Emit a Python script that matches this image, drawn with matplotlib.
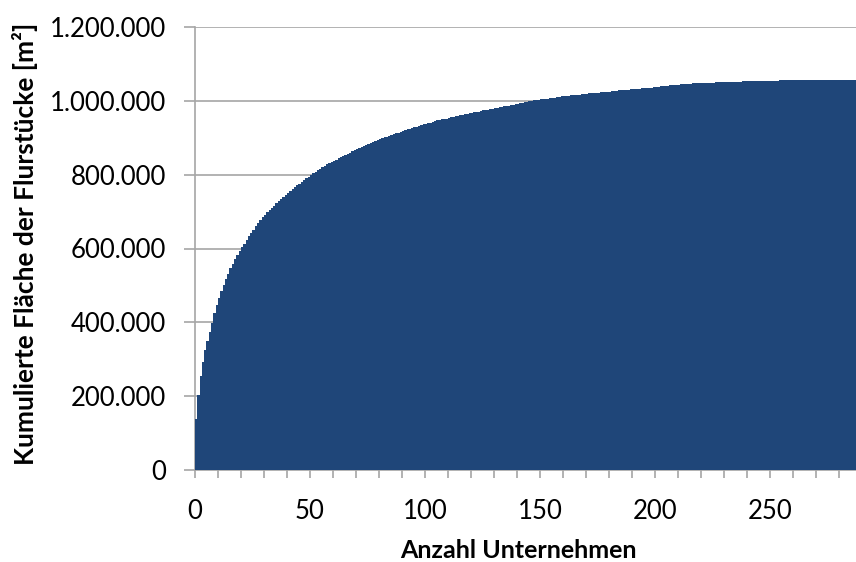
import numpy as np
import matplotlib
matplotlib.use("Agg")
from matplotlib import pyplot as plt
from matplotlib.ticker import MultipleLocator, FuncFormatter

# kumulierte Fläche je Unternehmen (in 1.000 m²)
kum_flaeche_tsd = [
    138, 203, 255, 293, 325, 350, 375, 399, 425, 447,
    466, 484, 501, 517, 532, 546, 559, 571, 583, 594,
    604, 613, 623, 633, 642, 651, 660, 669, 677, 684,
    691, 698, 704, 710, 716, 722, 728, 734, 739, 745,
    750, 755, 761, 766, 771, 776, 781, 786, 791, 795,
    800, 804, 808, 812, 816, 820, 824, 828, 831, 835,
    838, 841, 845, 848, 851, 854, 857, 860, 863, 866,
    869, 872, 875, 877, 880, 883, 886, 888, 891, 894,
    896, 898, 901, 903, 905, 907, 909, 912, 914, 916,
    918, 921, 923, 925, 926, 928, 930, 932, 934, 936,
    938, 939, 941, 943, 945, 947, 948, 950, 951, 952,
    954, 955, 956, 958, 959, 961, 962, 963, 965, 966,
    967, 969, 970, 971, 972, 974, 975, 976, 977, 979,
    980, 981, 982, 984, 985, 986, 987, 989, 990, 991,
    992, 994, 995, 996, 997, 999, 1000, 1001, 1002, 1003,
    1004, 1005, 1006, 1006, 1007, 1008, 1009, 1010, 1011, 1012,
    1013, 1013, 1014, 1015, 1015, 1016, 1017, 1017, 1018, 1019,
    1019, 1020, 1021, 1021, 1022, 1022, 1023, 1024, 1024, 1025,
    1025, 1026, 1026, 1027, 1028, 1028, 1029, 1029, 1030, 1031,
    1031, 1032, 1033, 1033, 1034, 1034, 1035, 1036, 1036, 1037,
    1038, 1038, 1039, 1040, 1040, 1041, 1042, 1042, 1043, 1043,
    1044, 1045, 1045, 1046, 1046, 1046, 1047, 1047, 1047, 1048,
    1048, 1048, 1048, 1049, 1049, 1049, 1050, 1050, 1050, 1050,
    1051, 1051, 1051, 1051, 1052, 1052, 1052, 1052, 1053, 1053,
    1053, 1053, 1054, 1054, 1054, 1054, 1054, 1055, 1055, 1055,
    1055, 1055, 1055, 1055, 1056, 1056, 1056, 1056, 1056, 1056,
    1056, 1056, 1056, 1056, 1056, 1056, 1056, 1056, 1056, 1056,
    1056, 1056, 1056, 1056, 1056, 1057, 1057, 1057, 1057, 1057,
    1057, 1057, 1057, 1057, 1057, 1057, 1057, 1057,
]
x_label = "Anzahl Unternehmen"
y_label = "Kumulierte Fläche der Flurstücke [m²]"

werte = np.array(kum_flaeche_tsd) * 1000
nr = np.arange(1, len(werte) + 1)

plt.rcParams['font.family'] = ['Lato', 'DejaVu Sans']
grau = "#A6A6A6"

fig = plt.figure(figsize=(8.56, 5.62), dpi=100)
ax = fig.add_axes([195 / 856, 92 / 562, 1 - 195 / 856, 443 / 562])

ax.bar(nr - 0.5, werte, width=1.0, color="#1F4679", linewidth=0, zorder=3)

ax.set_xlim(0, 287.4)
ax.set_ylim(0, 1200000)
ax.xaxis.set_major_locator(MultipleLocator(50))
ax.xaxis.set_minor_locator(MultipleLocator(10))
ax.yaxis.set_major_locator(MultipleLocator(200000))
ax.yaxis.set_major_formatter(FuncFormatter(lambda v, p: f"{int(v):,}".replace(",", ".")))

ax.grid(axis="y", color=grau, linewidth=1.2, zorder=0)
for s in ["top", "right"]:
    ax.spines[s].set_visible(False)
for s in ["left", "bottom"]:
    ax.spines[s].set_color(grau)
    ax.spines[s].set_linewidth(1.2)

ax.tick_params(axis="x", which="both", length=6, width=1.2, color=grau, pad=15,
               labelsize=18.5, labelcolor="black")
ax.tick_params(axis="y", which="major", length=8, width=1.2, color=grau, pad=13,
               labelsize=18.5, labelcolor="black")

ax.set_xlabel(x_label, fontsize=18, fontweight="bold")
ax.xaxis.set_label_coords(0.489, -0.155)
ax.set_ylabel(y_label, fontsize=19, fontweight="bold")
ax.yaxis.set_label_coords(-0.238, 0.51)

plt.savefig("out.png", dpi=100)
